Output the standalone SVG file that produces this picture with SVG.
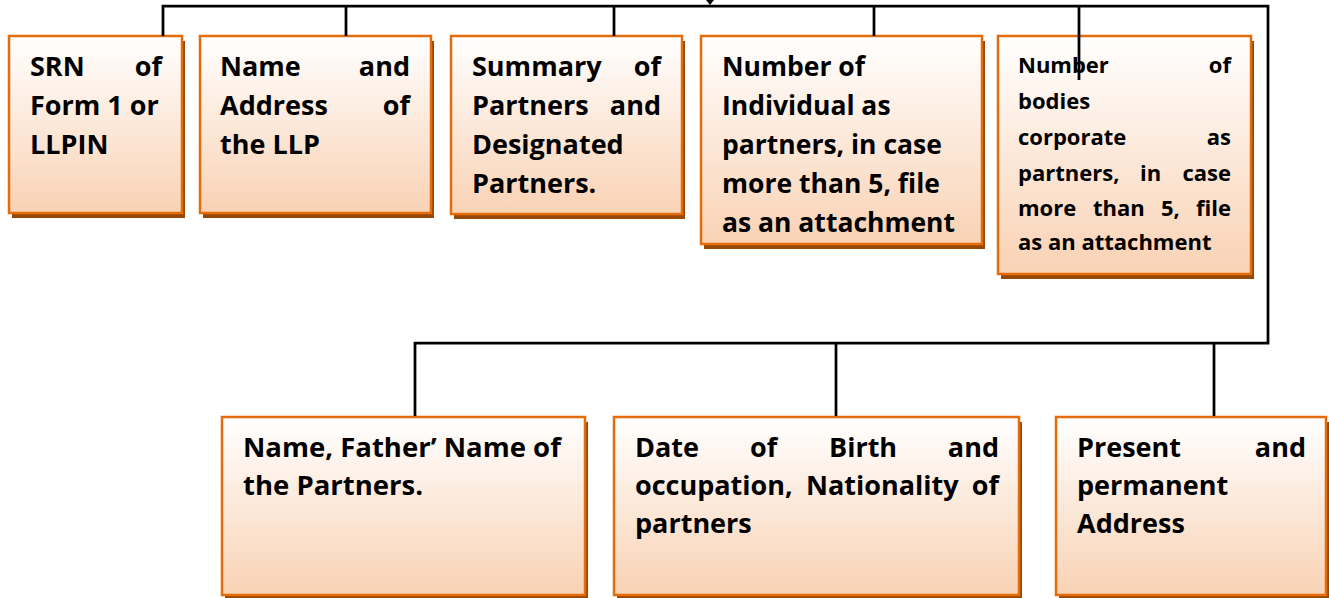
<svg xmlns="http://www.w3.org/2000/svg" width="1329" height="598" viewBox="0 0 1329 598">
<defs>
<linearGradient id="fill" x1="0" y1="0" x2="0" y2="1">
<stop offset="0" stop-color="#FFFFFF"/>
<stop offset="1" stop-color="#F9D2B4"/>
</linearGradient>
</defs>
<style>
.box{fill:url(#fill);stroke:#E46C0A;stroke-width:2.5}
.sh{fill:#984806}
.t{font-family:"Open Sans","Liberation Sans",sans-serif;font-weight:bold;font-size:27px;fill:#000}
.m{font-size:26.5px}
.b{font-size:27.5px}
.s{font-size:22px}
.e{text-anchor:end}
.c{fill:none;stroke:#000;stroke-width:2.75}
</style>
<rect width="1329" height="598" fill="#FFFFFF"/>

<g id="n1">
<rect class="sh" x="12" y="41" width="173" height="177"/>
<rect class="box" x="9" y="36" width="173" height="177"/>
<text class="t" x="30" y="76">SRN</text><text class="t e" x="162" y="76">of</text>
<text class="t" x="30" y="115">Form 1 or</text>
<text class="t" x="30" y="154">LLPIN</text>
</g>

<g id="n2">
<rect class="sh" x="203" y="41" width="231" height="177"/>
<rect class="box" x="200" y="36" width="231" height="177"/>
<text class="t" x="220" y="76">Name</text><text class="t e" x="410" y="76">and</text>
<text class="t" x="220" y="115">Address</text><text class="t e" x="410" y="115">of</text>
<text class="t" x="220" y="154">the LLP</text>
</g>

<g id="n3">
<rect class="sh" x="454" y="41" width="231" height="178"/>
<rect class="box" x="451" y="36" width="231" height="178"/>
<text class="t" x="472" y="76">Summary</text><text class="t e" x="661" y="76">of</text>
<text class="t" x="472" y="115">Partners</text><text class="t e" x="661" y="115">and</text>
<text class="t" x="472" y="154">Designated</text>
<text class="t" x="472" y="193">Partners.</text>
</g>

<g id="n4">
<rect class="sh" x="704" y="41" width="281" height="208"/>
<rect class="box" x="701" y="36" width="281" height="208"/>
<text class="t m" x="722" y="76">Number of</text>
<text class="t m" x="722" y="115">Individual as</text>
<text class="t m" x="722" y="154">partners, in case</text>
<text class="t m" x="722" y="193">more than 5, file</text>
<text class="t m" x="722" y="232">as an attachment</text>
</g>

<g id="n5">
<rect class="sh" x="1001" y="41" width="253" height="238"/>
<rect class="box" x="998" y="36" width="253" height="238"/>
<text class="t s" x="1018" y="73">Number</text><text class="t s e" x="1231" y="73">of</text>
<text class="t s" x="1018" y="109">bodies</text>
<text class="t s" x="1018" y="145">corporate</text><text class="t s e" x="1231" y="145">as</text>
<text class="t s" x="1018" y="181">partners,</text><text class="t s" x="1140" y="181">in</text><text class="t s e" x="1231" y="181">case</text>
<text class="t s" x="1018" y="216">more</text><text class="t s" x="1093" y="216">than</text><text class="t s" x="1161" y="216">5,</text><text class="t s e" x="1231" y="216">file</text>
<text class="t s" x="1018" y="250">as an attachment</text>
</g>

<g id="n6">
<rect class="sh" x="225" y="422" width="363" height="178"/>
<rect class="box" x="222" y="417" width="363" height="178"/>
<text class="t b" x="243" y="457">Name, Father’ Name of</text>
<text class="t b" x="243" y="495">the Partners.</text>
</g>

<g id="n7">
<rect class="sh" x="617" y="422" width="405" height="178"/>
<rect class="box" x="614" y="417" width="405" height="178"/>
<text class="t" x="635" y="457">Date</text><text class="t" x="750" y="457">of</text><text class="t" x="829" y="457">Birth</text><text class="t e" x="999" y="457">and</text>
<text class="t" x="635" y="495">occupation,</text><text class="t" x="806" y="495">Nationality</text><text class="t e" x="999" y="495">of</text>
<text class="t" x="635" y="533">partners</text>
</g>

<g id="n8">
<rect class="sh" x="1059" y="422" width="270" height="178"/>
<rect class="box" x="1056" y="417" width="270" height="178"/>
<text class="t" x="1077" y="457">Present</text><text class="t e" x="1306" y="457">and</text>
<text class="t" x="1077" y="495">permanent</text>
<text class="t" x="1077" y="533">Address</text>
</g>

<g id="connectors">
<path class="c" d="M163,36 V6 H1268 V343 H415 V416"/>
<path class="c" d="M346,6 V36 M614,6 V36 M874,6 V36 M1079,6 V80"/>
<path class="c" d="M836,343 V416 M1214,343 V416"/>
<polygon points="706,0 714,0 710,5" fill="#000"/>
</g>
</svg>
